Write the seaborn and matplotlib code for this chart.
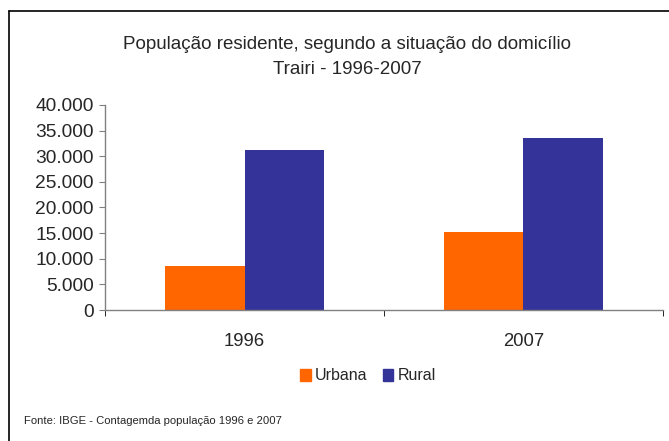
import matplotlib.pyplot as plt
import pandas as pd
import seaborn as sns
from matplotlib.lines import Line2D
from matplotlib.ticker import FuncFormatter

anos = ["1996", "2007"]
urbana = [8600, 15200]
rural = [31250, 33600]
situacao = ["Urbana", "Rural"]
cores = ["#FF6600", "#333399"]

df = pd.DataFrame({
    "ano": anos * 2,
    "situacao": [situacao[0]] * 2 + [situacao[1]] * 2,
    "pop": urbana + rural,
})

sns.set_style("white")
plt.rcParams["font.family"] = ["Liberation Sans", "DejaVu Sans"]

fig = plt.figure(figsize=(6.69, 4.41), dpi=100)
ax = fig.add_axes([0.157, 0.297, 0.834, 0.465])

sns.barplot(data=df, x="ano", y="pop", hue="situacao", palette=cores,
            width=0.573, saturation=1, linewidth=0, ax=ax, legend=False)

ax.set_ylim(0, 40000)
ax.set_yticks(range(0, 40001, 5000))
ax.yaxis.set_major_formatter(FuncFormatter(lambda v, p: f"{int(v):,}".replace(",", ".")))
ax.set_xlim(-0.5, 1.5)
ax.set_xlabel("")
ax.set_ylabel("")

for s in ["top", "right"]:
    ax.spines[s].set_visible(False)
for s in ["left", "bottom"]:
    ax.spines[s].set_color("#808080")
    ax.spines[s].set_linewidth(1)

ax.tick_params(axis="y", left=True, length=4, color="#808080", labelsize=13.8, pad=4)
ax.tick_params(axis="x", bottom=False, labelsize=13.3, pad=13)
ax.set_xticks([-0.5, 0.5, 1.5], minor=True)
ax.tick_params(axis="x", which="minor", bottom=True, length=4, color="#000000")

fig.text(0.519, 0.898, "População residente, segundo a situação do domicílio",
         ha="center", va="center", fontsize=13.5)
fig.text(0.519, 0.842, "Trairi - 1996-2007", ha="center", va="center", fontsize=13.5)

handles = [plt.Rectangle((0, 0), 1, 1, color=c) for c in cores]
fig.legend(handles, situacao, loc="center", bbox_to_anchor=(0.55, 0.148),
           ncol=2, frameon=False, fontsize=11.5, handlelength=0.65, handleheight=0.75,
           handletextpad=0.25, columnspacing=1.0)

fig.text(0.036, 0.045, "Fonte: IBGE - Contagemda população 1996 e 2007",
         ha="left", va="center", fontsize=8.1)

fig.add_artist(Line2D([0.0135, 0.0135], [0.0, 0.975], transform=fig.transFigure,
                      color="black", linewidth=1.2))
fig.add_artist(Line2D([0.0135, 1.0], [0.975, 0.975], transform=fig.transFigure,
                      color="black", linewidth=1.2))

fig.savefig("out.png", dpi=100)
